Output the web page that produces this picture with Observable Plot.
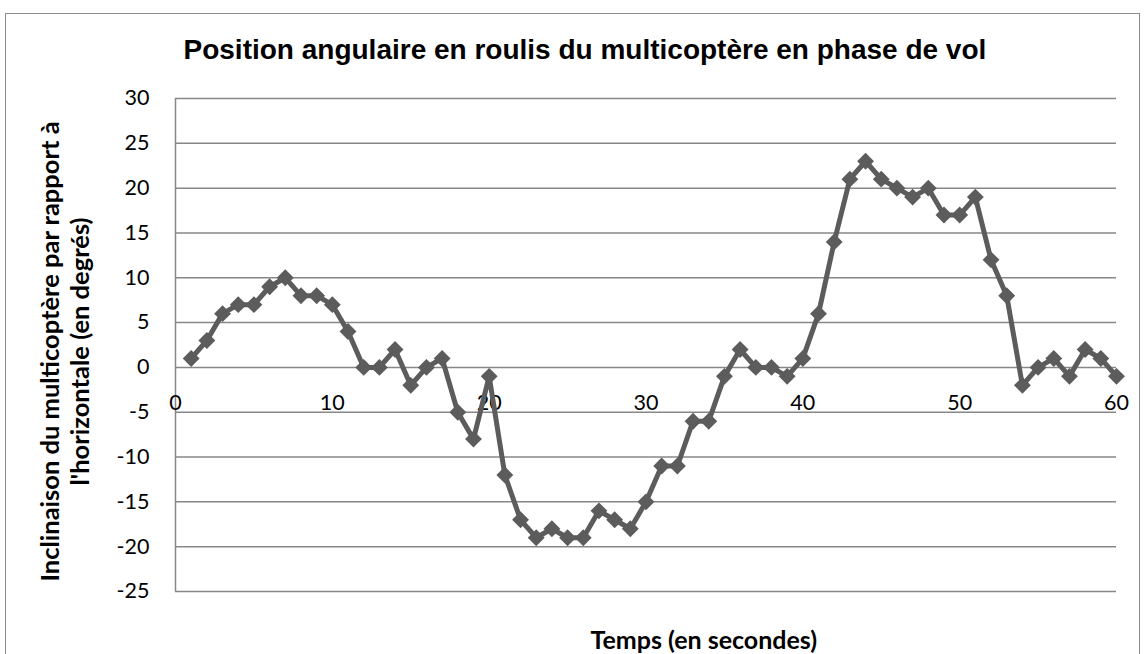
<!DOCTYPE html>
<html><head><meta charset="utf-8">
<script src="https://cdn.jsdelivr.net/npm/d3@7"></script>
<script src="https://cdn.jsdelivr.net/npm/@observablehq/plot@0.6"></script>
<style>
html,body{margin:0;padding:0;background:#fff;overflow:hidden}
#wrap{position:relative;width:1146px;height:654px}
#border{position:absolute;left:5px;top:13px;width:1135px;height:700px;border:1.5px solid #8c8c8c;box-sizing:border-box;pointer-events:none}
#chart{position:absolute;left:0;top:0}
</style></head>
<body><div id="wrap"><div id="chart"></div><div id="border"></div></div>
<script>
const title = "Position angulaire en roulis du multicoptère en phase de vol";
const yTitle1 = "Inclinaison du multicoptère par rapport à";
const yTitle2 = "l'horizontale (en degrés)";
const xTitle = "Temps (en secondes)";
const times = d3.range(1, 61);
const angles = [1,3,6,7,7,9,10,8,8,7, 4,0,0,2,-2,0,1,-5,-8,-1, -12,-17,-19,-18,-19,-19,-16,-17,-18,-15, -11,-11,-6,-6,-1,2,0,0,-1,1, 6,14,21,23,21,20,19,20,17,17, 19,12,8,-2,0,1,-1,2,1,-1];
const xTicks = [0,10,20,30,40,50,60];
const yTicks = [-25,-20,-15,-10,-5,0,5,10,15,20,25,30];

const data = times.map((t,i)=>({t, a: angles[i]}));
const labelFont = "Lato, 'Open Sans', sans-serif";

const plot = Plot.plot({
  width: 1146, height: 654,
  marginLeft: 175, marginRight: 30, marginTop: 98, marginBottom: 63,
  style: {fontFamily: labelFont, background: "transparent", overflow: "visible"},
  x: {domain: [0, 60], axis: null},
  y: {domain: [-25, 30], axis: null},
  marks: [
    Plot.ruleY(yTicks, {stroke: "#878787", strokeWidth: 1.5}),
    Plot.ruleX([0], {stroke: "#878787", strokeWidth: 1.5}),
    Plot.axisY({ticks: yTicks, tickSize: 0, tickPadding: 26, fontSize: 21.5, fill: "#000", label: null, tickFormat: d => String(d)}),
    Plot.text(xTicks, {x: d => d, y: () => 0, dy: 43, lineAnchor: "bottom", text: d => String(d), fontSize: 21.5, fill: "#000"}),
    Plot.line(data, {x: "t", y: "a", stroke: "#5c5c5c", strokeWidth: 5, strokeLinejoin: "round"}),
    Plot.dot(data, {x: "t", y: "a", symbol: "diamond2", r: 7.6, fill: "#5c5c5c", stroke: "none"}),
    Plot.text([title], {frameAnchor: "top-left", dx: 8, dy: -40, textAnchor: "start", lineAnchor: "bottom", text: d => d, fontSize: 28, fontWeight: "bold", fontFamily: "'Liberation Sans', Arial, sans-serif", fill: "#000"}),
    Plot.text([xTitle], {frameAnchor: "bottom-left", dx: 415, dy: 57, textAnchor: "start", lineAnchor: "bottom", text: d => d, fontSize: 25, fontWeight: "bold", fill: "#000"}),
    Plot.text([yTitle1], {frameAnchor: "left", dx: -125, dy: 6.5, rotate: -90, textAnchor: "middle", lineAnchor: "middle", text: d => d, fontSize: 25.5, fontWeight: "bold", fill: "#000"}),
    Plot.text([yTitle2], {frameAnchor: "left", dx: -95, dy: 6.5, rotate: -90, textAnchor: "middle", lineAnchor: "middle", text: d => d, fontSize: 25.5, fontWeight: "bold", fill: "#000"})
  ]
});
document.getElementById("chart").appendChild(plot);
</script></body></html>
